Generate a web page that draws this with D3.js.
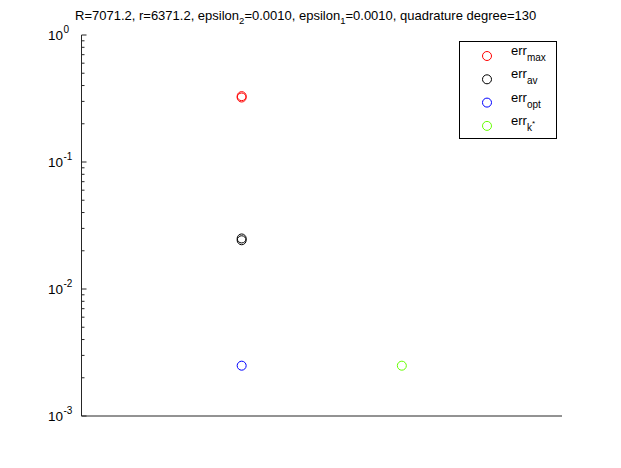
<!DOCTYPE html>
<html><head><meta charset="utf-8">
<script src="https://cdn.jsdelivr.net/npm/d3@7"></script>
<style>body{margin:0;background:#fff;}svg{display:block;font-family:"Liberation Sans",Arial,sans-serif;}</style>
</head><body><svg id="c" width="621" height="468"></svg>
<script>
const seriesNames = ["max", "av", "opt", "k*"];
const seriesColors = ["#ff0000", "#000000", "#0000ff", "#66ff00"];
const xMax = [1, 1];
const yMax = [0.330, 0.322];
const xAv = [1, 1];
const yAv = [0.0250, 0.0242];
const xOpt = [1];
const yOpt = [0.00249];
const xK = [2];
const yK = [0.00249];
const yTickExps = [0, -1, -2, -3];
const titleText = "R=7071.2, r=6371.2, epsilon_2=0.0010, epsilon_1=0.0010, quadrature degree=130";

const svg = d3.select("#c");
const L = 81.5, R = 562, T = 35, B = 416;
const x = d3.scaleLinear().domain([0, 3]).range([L, R]);
const y = d3.scaleLog().domain([1e-3, 1]).range([B, T]);
const axColor = "#262626";

// ticks
const g = svg.append("g");
yTickExps.forEach(e => {
  const v = Math.pow(10, e);
  g.append("line").attr("x1", L).attr("x2", L + 5).attr("y1", y(v)).attr("y2", y(v)).attr("stroke", axColor);
  if (e > -3) {
    for (let m = 2; m <= 9; m++) {
      const mv = m * Math.pow(10, e - 1);
      g.append("line").attr("x1", L).attr("x2", L + 3).attr("y1", y(mv)).attr("y2", y(mv)).attr("stroke", axColor);
    }
  }
  g.append("text").attr("x", L - 18.5).attr("y", y(v) + 5).attr("text-anchor", "end").attr("font-size", 13.5).attr("fill", "#000").text("10");
  g.append("text").attr("x", L - 18).attr("y", y(v) - 2).attr("font-size", 10).attr("fill", "#000").text(String(e));
});
// axis lines
svg.append("line").attr("x1", L).attr("x2", L).attr("y1", T).attr("y2", B).attr("stroke", axColor);
svg.append("line").attr("x1", L).attr("x2", R).attr("y1", B).attr("y2", B).attr("stroke", axColor);

// title
const tt = svg.append("text").attr("x", 75).attr("y", 20).attr("font-size", 13).attr("fill", "#000");
tt.append("tspan").text("R=7071.2, r=6371.2, epsilon");
tt.append("tspan").attr("font-size", 9.5).attr("dy", 4).text("2");
tt.append("tspan").attr("dy", -4).text("=0.0010, epsilon");
tt.append("tspan").attr("font-size", 9.5).attr("dy", 4).text("1");
tt.append("tspan").attr("dy", -4).text("=0.0010, quadrature degree=130");

// points
const data = [[xMax, yMax], [xAv, yAv], [xOpt, yOpt], [xK, yK]];
data.forEach((d, i) => {
  svg.append("g").selectAll("circle").data(d[0].map((xv, j) => [xv, d[1][j]])).join("circle")
    .attr("cx", p => x(p[0])).attr("cy", p => y(p[1])).attr("r", 4.5)
    .attr("fill", "none").attr("stroke", seriesColors[i]).attr("stroke-width", 1);
});

// legend
const lg = svg.append("g");
lg.append("rect").attr("x", 459.5).attr("y", 41.5).attr("width", 97).attr("height", 97).attr("fill", "#fff").attr("stroke", "#000");
seriesNames.forEach((n, i) => {
  const cy = 56 + i * 23.3;
  lg.append("circle").attr("cx", 487).attr("cy", cy).attr("r", 4.5).attr("fill", "none").attr("stroke", seriesColors[i]);
  const t = lg.append("text").attr("x", 511).attr("y", cy - 1).attr("font-size", 13).attr("fill", "#000");
  t.append("tspan").text("err");
  if (n === "k*") {
    t.append("tspan").attr("font-size", 10).attr("dy", 6).text("k");
    t.append("tspan").attr("font-size", 8).attr("dy", -5).text("*");
  } else {
    t.append("tspan").attr("font-size", 10).attr("dy", 6).text(n);
  }
});
</script></body></html>
